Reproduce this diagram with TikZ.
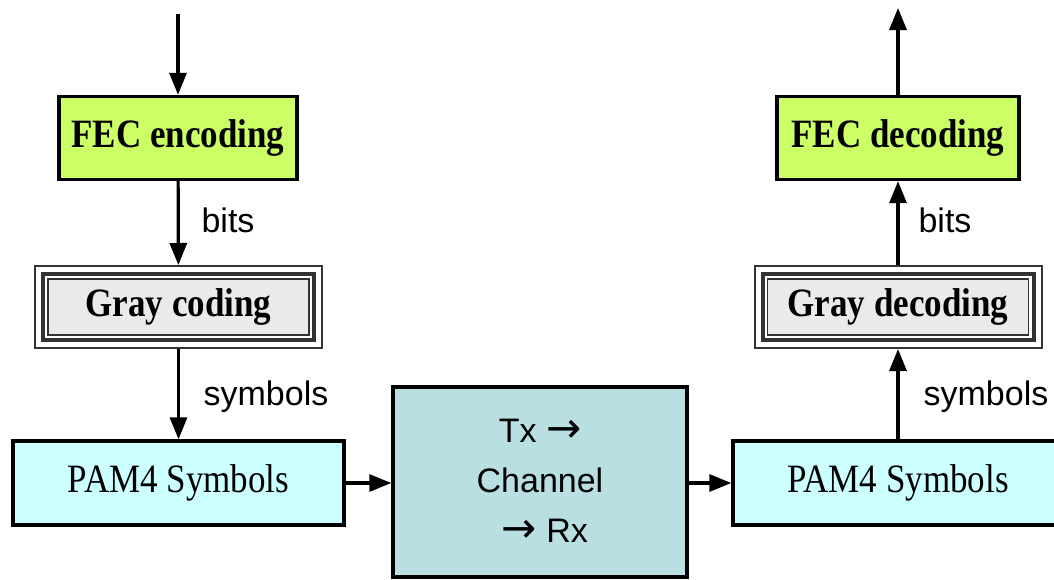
\documentclass[tikz,border=0pt]{standalone}
\usepackage{fontspec}
\setmainfont{Liberation Serif}
\setsansfont{Liberation Sans}
\newfontfamily\arrfont{DejaVu Sans}
\usetikzlibrary{arrows.meta}
\definecolor{feccol}{HTML}{CCFF66}
\definecolor{pamcol}{HTML}{CCFFFF}
\definecolor{chancol}{HTML}{B9DFE3}
\definecolor{graycol}{HTML}{EAEAEA}
\newcommand{\tallt}[1]{\scalebox{1}[1.15]{#1}}
\newcommand{\rarr}{{\arrfont\fontsize{42}{42}\selectfont →}}
\begin{document}
\begin{tikzpicture}[x=1pt,y=-1pt,
  box/.style={draw=black, line width=3.4pt, inner sep=0pt},
  fecbox/.style={box, fill=feccol, minimum width=238pt, minimum height=83pt,
    font=\fontsize{35}{40}\selectfont\bfseries},
  graybox/.style={draw=black!80, line width=2pt, fill=white, inner sep=0pt,
    minimum width=287pt, minimum height=82pt,
    font=\fontsize{35}{40}\selectfont\bfseries,
    path picture={
      \fill[graycol] ([shift={(13pt,-13pt)}]path picture bounding box.north west)
        rectangle ([shift={(-13pt,13pt)}]path picture bounding box.south east);
      \draw[line width=1.4pt] ([shift={(13pt,-13pt)}]path picture bounding box.north west)
        rectangle ([shift={(-13pt,13pt)}]path picture bounding box.south east);
      \draw[line width=4pt] ([shift={(8pt,-8pt)}]path picture bounding box.north west)
        rectangle ([shift={(-8pt,8pt)}]path picture bounding box.south east);
    }},
  pambox/.style={box, fill=pamcol, minimum width=331pt, minimum height=84pt,
    font=\fontsize{35}{40}\selectfont},
  chanbox/.style={box, fill=chancol, minimum width=294pt, minimum height=190pt,
    align=center, font=\sffamily\fontsize{34}{50}\selectfont},
  lbl/.style={inner sep=0pt, font=\sffamily\fontsize{34}{40}\selectfont},
  arr/.style={line width=3.2pt, -{Triangle[length=22pt,width=17pt]}}
]
\useasboundingbox (0,0) rectangle (1054,579);

% left column
\coordinate (in) at (178,14);
\node[fecbox] (fecE) at (178,138) {\tallt{FEC encoding}};
\node[graybox] (grayC) at (178.5,307) {\tallt{Gray coding}};
\node[pambox] (pamL) at (178.5,483) {\tallt{PAM4 Symbols}};

% channel
\node[chanbox] (chan) at (540,482) {\raisebox{-4pt}{\begin{tabular}{@{}c@{}}Tx \rarr\\Channel\\\ \rarr{} Rx\end{tabular}}};

% right column
\node[pambox, minimum width=330pt] (pamR) at (898,483) {\tallt{PAM4 Symbols}};
\node[graybox] (grayD) at (898,307) {\tallt{Gray decoding}};
\node[fecbox, minimum width=242pt] (fecD) at (898,138) {\tallt{FEC decoding}};
\coordinate (out) at (898,8);

% labels
\node[lbl] (bitsL) at (228,220) {bits};
\node[lbl] (symL) at (266,397) {symbols};
\node[lbl] (bitsR) at (945,220) {bits};
\node[lbl] (symR) at (986,397) {symbols};

% connectors
\draw[arr] (in) -- (fecE);
\draw[arr] (fecE) -- (grayC);
\draw[arr] (grayC) -- (pamL);
\draw[arr] (pamL.east) -- (chan.west |- pamL.east);
\draw[arr] (chan.east |- pamR.west) -- (pamR.west);
\draw[arr] (pamR) -- (grayD);
\draw[arr] (grayD) -- (fecD);
\draw[arr] (fecD) -- (out);
\end{tikzpicture}
\end{document}
